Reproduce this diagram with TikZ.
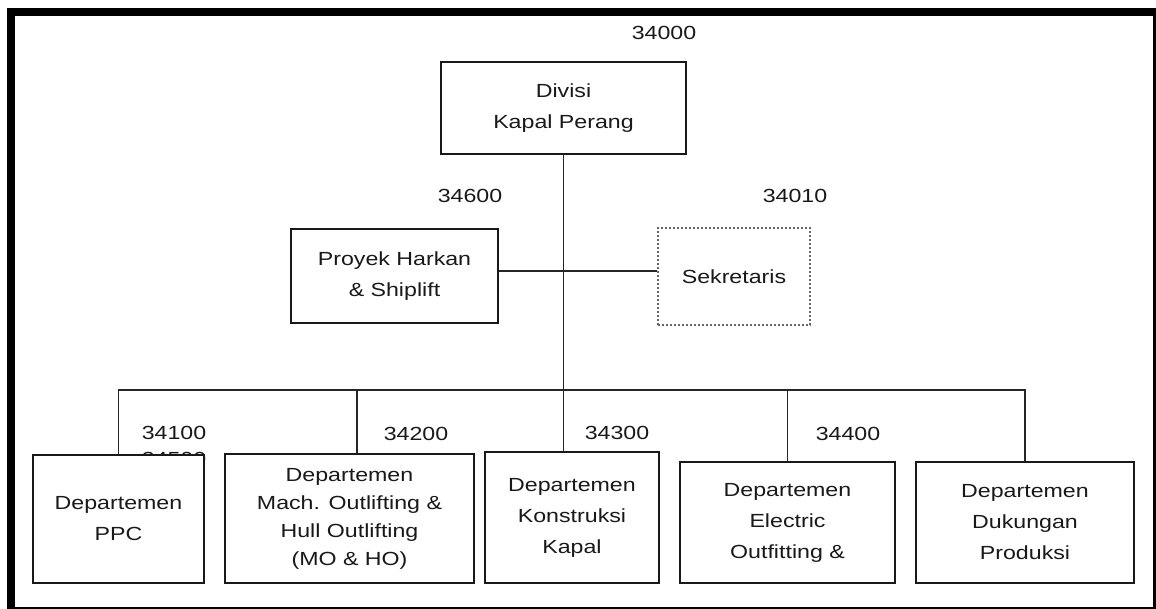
\documentclass[tikz,border=0pt]{standalone}
\usepackage{fontspec}
\setmainfont[FakeStretch=1.22]{Liberation Sans}
\usepackage{tikz}

\begin{document}
\begin{tikzpicture}[x=1pt, y=-1pt,
    every node/.style={font=\fontsize{19}{31}\selectfont, text=black!90},
    box/.style={draw=black!90, line width=2pt, fill=white, align=center, inner sep=0pt},
    dotbox/.style={box, draw=black!60, dotted, line width=1.6pt},
    code/.style={inner sep=0pt},
    wire/.style={draw=black!85, line width=1.8pt}]
  \useasboundingbox (0,0) rectangle (1156,609);

  % Outer frame
  \draw[line width=8pt] (11,12) rectangle (1157,611);

  % Division head
  \node[box, minimum width=245, minimum height=92] (divisi) at (563.5,108) {Divisi\\Kapal Perang};
  \node[code] (c34000) at (664,33) {34000};

  % Staff units
  \node[box, minimum width=207, minimum height=94] (proyek) at (394.5,276) {Proyek Harkan\\\& Shiplift};
  \node[code] (c34600) at (470,196) {34600};
  \node[dotbox, minimum width=152, minimum height=97] (sekr) at (734,276.5) {Sekretaris};
  \node[code] (c34010) at (795,196) {34010};

  % Department codes (one is hidden under the PPC box)
  \node[code] (c34100) at (174,433) {34100};
  \node[code] (c34500) at (174,459) {34500};
  \node[code] (c34200) at (416,434) {34200};
  \node[code] (c34300) at (617,433) {34300};
  \node[code] (c34400) at (848,434) {34400};

  % Departments
  \node[box, minimum width=171, minimum height=128] (ppc) at (118.5,519) {Departemen\\PPC};
  \node[box, minimum width=249, minimum height=129, font=\fontsize{19}{28}\selectfont] (mach) at (349.5,518.5)
    {Departemen\\Mach. Outlifting \&\\Hull Outlifting\\(MO \& HO)};
  \node[box, minimum width=174, minimum height=131] (konst) at (572,517.5)
    {Departemen\\Konstruksi\\Kapal};
  \node[box, minimum width=215, minimum height=121] (elec) at (787.5,522.5)
    {Departemen\\Electric\\Outfitting \&};
  \node[box, minimum width=218, minimum height=121] (duk) at (1025,522.5)
    {Departemen\\Dukungan\\Produksi};

  % Connectors
  \coordinate (mid) at (566,271);
  \coordinate (bus) at (566,390);
  \draw[wire] (divisi.south) -- (divisi.south |- konst.north);
  \draw[wire] (proyek.east |- mid) -- (sekr.west |- mid);
  \draw[wire] (ppc.north) |- (bus) -| (duk.north);
  \draw[wire] ([xshift=7.5pt]mach.north |- bus) -- ([xshift=7.5pt]mach.north);
  \draw[wire] (bus -| elec.north) -- (elec.north);
\end{tikzpicture}
\end{document}
